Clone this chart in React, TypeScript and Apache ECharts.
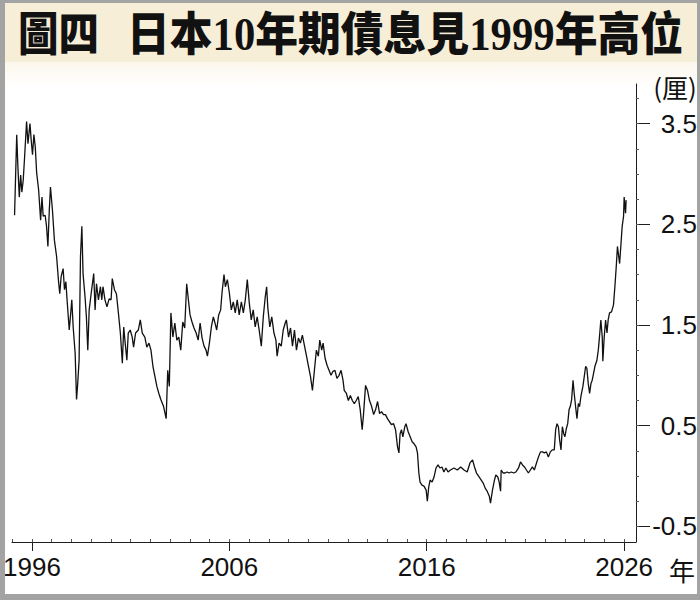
import React, { useEffect, useRef } from "react";
import * as echarts from "echarts";

// ---------- data ----------
const years: number[] = [
  1995.12, 1995.23, 1995.29, 1995.36, 1995.43, 1995.49, 1995.56, 1995.63, 1995.73, 1995.8,
  1995.9, 1995.97, 1996.03, 1996.1, 1996.17, 1996.24, 1996.34, 1996.44, 1996.51, 1996.57,
  1996.67, 1996.74, 1996.81, 1996.88, 1996.94, 1997.04, 1997.14, 1997.25, 1997.35, 1997.41,
  1997.48, 1997.58, 1997.65, 1997.72, 1997.78, 1997.89, 1997.95, 1998.02, 1998.09, 1998.19,
  1998.26, 1998.32, 1998.39, 1998.46, 1998.53, 1998.59, 1998.69, 1998.76, 1998.83, 1998.9,
  1999.0, 1999.13, 1999.2, 1999.27, 1999.37, 1999.47, 1999.54, 1999.6, 1999.7, 1999.8,
  1999.91, 2000.01, 2000.07, 2000.18, 2000.28, 2000.38, 2000.48, 2000.58, 2000.65, 2000.71,
  2000.81, 2000.88, 2000.98, 2001.08, 2001.15, 2001.25, 2001.39, 2001.49, 2001.59, 2001.72,
  2001.82, 2001.93, 2002.03, 2002.13, 2002.23, 2002.33, 2002.43, 2002.53, 2002.67, 2002.8,
  2002.88, 2002.96, 2003.04, 2003.14, 2003.24, 2003.34, 2003.44, 2003.54, 2003.64, 2003.74,
  2003.84, 2003.91, 2004.01, 2004.11, 2004.21, 2004.32, 2004.42, 2004.52, 2004.62, 2004.72,
  2004.82, 2004.89, 2004.99, 2005.09, 2005.19, 2005.26, 2005.36, 2005.46, 2005.56, 2005.63,
  2005.73, 2005.8, 2005.9, 2006.0, 2006.1, 2006.2, 2006.3, 2006.4, 2006.5, 2006.61,
  2006.71, 2006.81, 2006.91, 2007.01, 2007.11, 2007.21, 2007.31, 2007.41, 2007.51, 2007.62,
  2007.72, 2007.82, 2007.89, 2007.95, 2008.05, 2008.15, 2008.26, 2008.36, 2008.42, 2008.52,
  2008.63, 2008.73, 2008.83, 2008.89, 2009.0, 2009.1, 2009.2, 2009.3, 2009.4, 2009.5,
  2009.6, 2009.7, 2009.8, 2009.91, 2010.01, 2010.11, 2010.21, 2010.31, 2010.41, 2010.51,
  2010.58, 2010.68, 2010.75, 2010.85, 2010.95, 2011.05, 2011.15, 2011.25, 2011.35, 2011.45,
  2011.56, 2011.66, 2011.76, 2011.82, 2011.93, 2012.03, 2012.13, 2012.23, 2012.33, 2012.43,
  2012.53, 2012.63, 2012.73, 2012.8, 2012.9, 2013.0, 2013.1, 2013.21, 2013.31, 2013.41,
  2013.51, 2013.61, 2013.71, 2013.81, 2013.91, 2014.01, 2014.11, 2014.21, 2014.32, 2014.42,
  2014.52, 2014.59, 2014.65, 2014.72, 2014.79, 2014.89, 2014.95, 2015.06, 2015.16, 2015.26,
  2015.36, 2015.46, 2015.53, 2015.6, 2015.66, 2015.76, 2015.86, 2015.97, 2016.03, 2016.1,
  2016.17, 2016.27, 2016.37, 2016.47, 2016.57, 2016.67, 2016.77, 2016.87, 2016.97, 2017.08,
  2017.2, 2017.38, 2017.55, 2017.72, 2017.89, 2018.05, 2018.19, 2018.32, 2018.42, 2018.52,
  2018.66, 2018.76, 2018.86, 2018.96, 2019.06, 2019.17, 2019.23, 2019.33, 2019.43, 2019.5,
  2019.6, 2019.67, 2019.74, 2019.77, 2019.87, 2019.97, 2020.07, 2020.17, 2020.28, 2020.41,
  2020.51, 2020.65, 2020.75, 2020.85, 2020.95, 2021.05, 2021.15, 2021.25, 2021.35, 2021.45,
  2021.56, 2021.66, 2021.76, 2021.86, 2021.96, 2022.06, 2022.16, 2022.26, 2022.36, 2022.46,
  2022.53, 2022.6, 2022.67, 2022.73, 2022.8, 2022.87, 2022.94, 2023.0, 2023.07, 2023.14,
  2023.21, 2023.27, 2023.34, 2023.41, 2023.47, 2023.54, 2023.61, 2023.68, 2023.74, 2023.81,
  2023.91, 2023.98, 2024.05, 2024.11, 2024.18, 2024.25, 2024.32, 2024.38, 2024.45, 2024.52,
  2024.62, 2024.69, 2024.75, 2024.82, 2024.89, 2024.92, 2024.99, 2025.06, 2025.13, 2025.19,
  2025.26, 2025.36, 2025.46, 2025.53, 2025.6, 2025.66, 2025.77, 2025.83, 2025.9, 2025.97,
  2026.0, 2026.07, 2026.1,
];

const yields: number[] = [
  2.59, 3.39, 3.07, 2.77, 2.99, 2.82, 2.94, 3.17, 3.52, 3.3,
  3.5, 3.32, 3.19, 3.39, 3.27, 3.01, 2.84, 2.54, 2.77, 2.58,
  2.59, 2.48, 2.28, 2.64, 2.87, 2.64, 2.34, 2.18, 1.93, 1.81,
  1.98, 2.06, 1.85, 1.93, 1.75, 1.45, 1.58, 1.75, 1.48, 1.22,
  0.76, 0.92, 1.15, 2.18, 2.48, 2.01, 1.78, 1.58, 1.25, 1.65,
  1.81, 2.01, 1.65, 1.91, 1.75, 1.88, 1.75, 1.88, 1.75, 1.68,
  1.76, 1.75, 1.96, 1.85, 1.81, 1.62, 1.42, 1.12, 1.48, 1.35,
  1.15, 1.42, 1.45, 1.38, 1.28, 1.42, 1.45, 1.55, 1.42, 1.38,
  1.28, 1.32, 1.25, 1.09, 0.99, 0.89, 0.82, 0.76, 0.69, 0.57,
  1.05, 0.89, 1.62, 1.38, 1.52, 1.35, 1.38, 1.25, 1.53, 1.47,
  1.91, 1.78, 1.6, 1.53, 1.47, 1.42, 1.35, 1.52, 1.37, 1.29,
  1.25, 1.19, 1.32, 1.48, 1.58, 1.53, 1.45, 1.6, 1.65, 1.82,
  2.0, 1.88, 1.95, 1.82, 1.65, 1.73, 1.62, 1.75, 1.6, 1.73,
  1.62, 1.75, 1.95, 1.72, 1.55, 1.65, 1.48, 1.58, 1.45, 1.29,
  1.58, 1.78, 1.88, 1.67, 1.48, 1.58, 1.42, 1.35, 1.19, 1.32,
  1.29, 1.45, 1.52, 1.55, 1.38, 1.47, 1.29, 1.45, 1.25, 1.37,
  1.32, 1.4, 1.3, 1.19, 1.09, 0.99, 0.85, 1.05, 1.25, 1.19,
  1.35, 1.25, 1.32, 1.17, 1.1, 1.05, 1.0, 1.04, 1.05, 0.97,
  1.0, 1.05, 0.95, 0.85, 0.82, 0.75, 0.8, 0.75, 0.72, 0.75,
  0.79, 0.66, 0.46, 0.62, 0.9, 0.85, 0.75, 0.69, 0.61, 0.66,
  0.74, 0.62, 0.64, 0.61, 0.61, 0.57, 0.54, 0.51, 0.52, 0.46,
  0.29, 0.23, 0.42, 0.46, 0.39, 0.49, 0.52, 0.44, 0.39, 0.34,
  0.32, 0.29, 0.23, 0.03, -0.06, -0.09, -0.1, -0.14, -0.25, -0.11,
  -0.04, -0.06, -0.01, 0.08, 0.11, 0.08, 0.09, 0.04, 0.08, 0.04,
  0.06, 0.08, 0.06, 0.09, 0.06, 0.04, 0.13, 0.16, 0.09, 0.03,
  -0.01, -0.04, -0.07, -0.12, -0.15, -0.2, -0.27, -0.14, -0.04, 0.01,
  -0.01, -0.06, -0.15, 0.06, 0.03, 0.03, 0.04, 0.03, 0.04, 0.03,
  0.04, 0.08, 0.14, 0.11, 0.09, 0.06, 0.03, 0.06, 0.09, 0.06,
  0.13, 0.19, 0.24, 0.24, 0.23, 0.24, 0.19, 0.24, 0.26, 0.26,
  0.46, 0.52, 0.49, 0.36, 0.26, 0.49, 0.42, 0.39, 0.47, 0.52,
  0.66, 0.69, 0.76, 0.95, 0.82, 0.69, 0.57, 0.72, 0.69, 0.79,
  0.89, 0.99, 1.09, 1.07, 0.92, 0.82, 0.92, 0.95, 1.02, 1.09,
  1.15, 1.25, 1.38, 1.55, 1.38, 1.14, 1.38, 1.55, 1.42, 1.55,
  1.62, 1.63, 1.7, 1.88, 2.08, 2.28, 2.11, 2.28, 2.48, 2.58,
  2.77, 2.61, 2.74,
];

const xTickYears: number[] = [1996, 2006, 2016, 2026];
const xMinorYears: number[] = [
  1995, 1996, 1997, 1998, 1999, 2000, 2001, 2002, 2003, 2004, 2005, 2006, 2007, 2008, 2009, 2010,
  2011, 2012, 2013, 2014, 2015, 2016, 2017, 2018, 2019, 2020, 2021, 2022, 2023, 2024, 2025, 2026,
];
const yTickValues: number[] = [-0.5, 0.5, 1.5, 2.5, 3.5];
const yMinorValues: number[] = [
  -0.5, -0.25, 0, 0.25, 0.5, 0.75, 1, 1.25, 1.5, 1.75, 2, 2.25, 2.5, 2.75, 3, 3.25, 3.5, 3.75,
];

const titleLead = "圖四";
const titleMain = "日本10年期債息見1999年高位";
const yUnit = "(厘)";
const xUnit = "年";

const X_MIN = 1994.99;
const X_MAX = 2026.6;
const Y_MIN = -0.655;
const Y_MAX = 3.893;

const NARROW = "'Liberation Sans Narrow', 'Arial Narrow', 'Liberation Sans', Arial, sans-serif";
const TITLE_FONT = "'Liberation Serif', 'Noto Sans CJK TC', serif";
const AXIS_COLOR = "#1e1e1e";

export default function App() {
  const ref = useRef<HTMLDivElement>(null);

  useEffect(() => {
    if (!ref.current) return;
    const chart = echarts.init(ref.current, undefined, { renderer: "svg" });

    const lineData = years.map((y, i) => [y, yields[i]]);

    const option: any = {
      animation: false,
      backgroundColor: "#ffffff",
      grid: { left: 10, right: 64, top: 84, bottom: 58 },
      xAxis: [
        {
          type: "value",
          position: "bottom",
          min: X_MIN,
          max: X_MAX,
          splitLine: { show: false },
          axisLine: { show: true, onZero: false, lineStyle: { color: AXIS_COLOR, width: 1 } },
          axisTick: {
            show: true,
            customValues: xTickYears,
            length: 9,
            inside: false,
            lineStyle: { color: AXIS_COLOR, width: 1 },
          },
          axisLabel: {
            customValues: xTickYears,
            margin: 12,
            fontSize: 26,
            color: "#111",
            fontFamily: NARROW,
            formatter: (v: number) => String(Math.round(v)),
          },
        },
        {
          type: "value",
          position: "bottom",
          min: X_MIN,
          max: X_MAX,
          splitLine: { show: false },
          axisLine: { show: false, onZero: false },
          axisTick: {
            show: true,
            customValues: xMinorYears,
            length: 3,
            inside: true,
            lineStyle: { color: "#555", width: 1 },
          },
          axisLabel: { show: false },
        },
      ],
      yAxis: [
        {
          type: "value",
          position: "right",
          min: Y_MIN,
          max: Y_MAX,
          splitLine: { show: false },
          axisLine: { show: true, onZero: false, lineStyle: { color: AXIS_COLOR, width: 1 } },
          axisTick: {
            show: true,
            customValues: yTickValues,
            length: 14,
            inside: false,
            lineStyle: { color: AXIS_COLOR, width: 1 },
          },
          axisLabel: {
            customValues: yTickValues,
            margin: 61,
            align: "right",
            fontSize: 26,
            color: "#111",
            fontFamily: NARROW,
            formatter: (v: number) => v.toFixed(1),
          },
        },
        {
          type: "value",
          position: "right",
          min: Y_MIN,
          max: Y_MAX,
          splitLine: { show: false },
          axisLine: { show: false, onZero: false },
          axisTick: {
            show: true,
            customValues: yMinorValues,
            length: 3,
            inside: false,
            lineStyle: { color: "#555", width: 1 },
          },
          axisLabel: { show: false },
        },
      ],
      series: [
        {
          type: "line",
          xAxisIndex: 0,
          yAxisIndex: 0,
          data: lineData,
          showSymbol: false,
          symbol: "none",
          lineStyle: { color: "#111", width: 1.3 },
          z: 3,
        },
      ],
      graphic: [
        {
          type: "rect",
          z: -10,
          silent: true,
          shape: { x: 0, y: 0, width: 700, height: 62 },
          style: { fill: "#f7eed8" },
        },
        {
          type: "rect",
          z: -10,
          silent: true,
          shape: { x: 0, y: 62, width: 700, height: 26 },
          style: {
            fill: new echarts.graphic.LinearGradient(0, 0, 0, 1, [
              { offset: 0, color: "#fcf6ec" },
              { offset: 1, color: "#ffffff" },
            ]),
          },
        },
        { type: "rect", z: 10, silent: true, shape: { x: 0, y: 0, width: 700, height: 3 }, style: { fill: "#a3a3a3" } },
        { type: "rect", z: 10, silent: true, shape: { x: 0, y: 0, width: 5, height: 600 }, style: { fill: "#a3a3a3" } },
        { type: "rect", z: 10, silent: true, shape: { x: 697, y: 0, width: 3, height: 600 }, style: { fill: "#a3a3a3" } },
        { type: "rect", z: 10, silent: true, shape: { x: 0, y: 594, width: 700, height: 6 }, style: { fill: "#a3a3a3" } },
        {
          type: "text",
          z: 5,
          x: 18,
          y: 34,
          scaleX: 0.88,
          style: {
            text: titleLead,
            fill: "#111",
            fontSize: 46,
            fontWeight: 900,
            fontFamily: TITLE_FONT,
            textAlign: "left",
            textVerticalAlign: "middle",
            align: "left",
            verticalAlign: "middle",
          },
        },
        {
          type: "text",
          z: 5,
          x: 127,
          y: 34,
          scaleX: 0.93,
          style: {
            text: titleMain,
            fill: "#111",
            fontSize: 46,
            fontWeight: 900,
            fontFamily: TITLE_FONT,
            textAlign: "left",
            textVerticalAlign: "middle",
            align: "left",
            verticalAlign: "middle",
          },
        },
        {
          type: "text",
          z: 5,
          x: 675,
          y: 86,
          style: {
            text: yUnit,
            fill: "#111",
            fontSize: 26,
            fontFamily: "'Liberation Sans Narrow', 'Noto Sans CJK TC', sans-serif",
            textAlign: "center",
            textVerticalAlign: "middle",
            align: "center",
            verticalAlign: "middle",
          },
        },
        {
          type: "text",
          z: 5,
          x: 682,
          y: 569,
          style: {
            text: xUnit,
            fill: "#111",
            fontSize: 26,
            fontFamily: "'Noto Sans CJK TC', sans-serif",
            textAlign: "center",
            textVerticalAlign: "middle",
            align: "center",
            verticalAlign: "middle",
          },
        },
      ],
    };

    chart.setOption(option);
    return () => {
      chart.dispose();
    };
  }, []);

  return (
    <div
      ref={ref}
      style={{ position: "absolute", left: 0, top: 0, width: 700, height: 600 }}
    />
  );
}
